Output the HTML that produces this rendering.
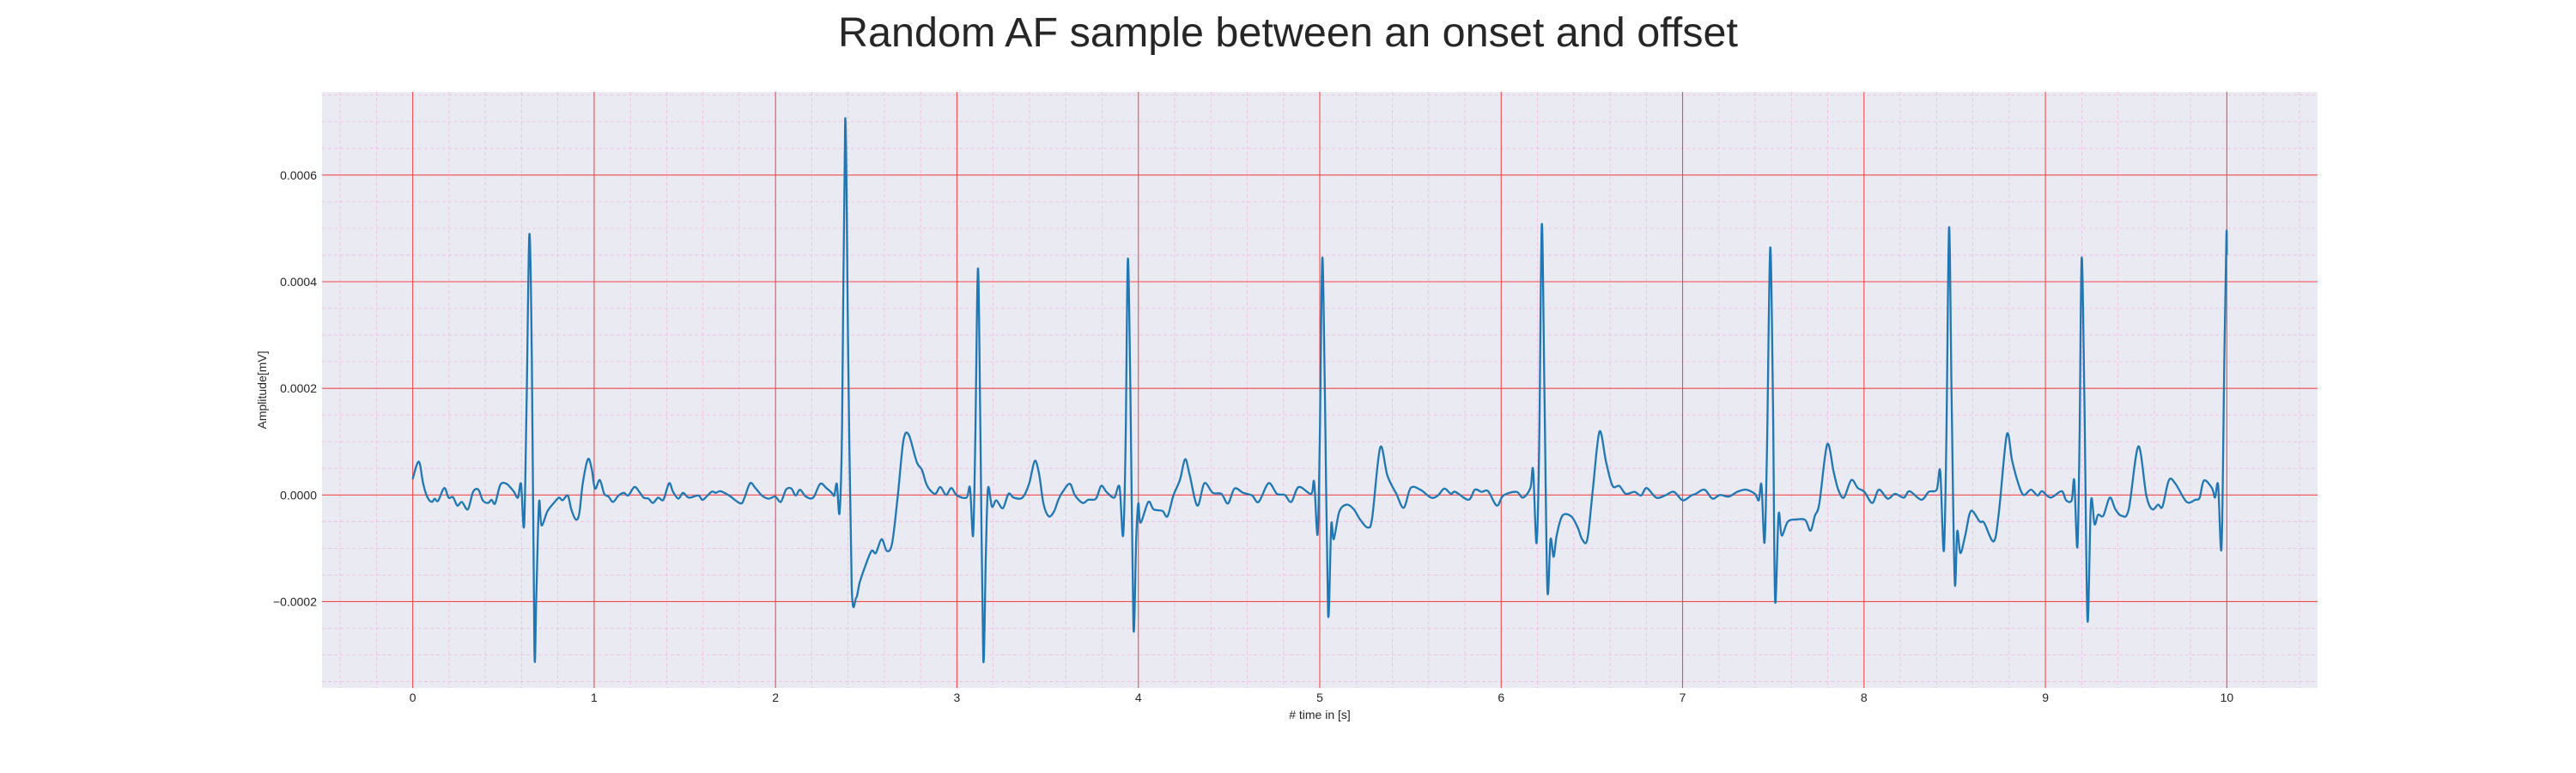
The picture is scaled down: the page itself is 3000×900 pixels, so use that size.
<!DOCTYPE html>
<html><head><meta charset="utf-8"><style>
html,body{margin:0;padding:0;background:#fff;}
svg{display:block;font-family:"Liberation Sans",Arial,sans-serif;}
</style></head><body>
<svg id="chart" width="3000" height="900" viewBox="0 0 3000 900" xmlns="http://www.w3.org/2000/svg">
<text x="1500" y="54" text-anchor="middle" font-size="48.5" fill="#262626">Random AF sample between an onset and offset</text>
<rect x="375" y="107" width="2324" height="694" fill="#eaeaf2"/>
<g id="grid"></g>
<g id="ticks"></g>
<text x="1537" y="837" text-anchor="middle" font-size="14" fill="#262626"># time in [s]</text>
<text transform="translate(310,454) rotate(-90)" text-anchor="middle" font-size="14" fill="#262626">Amplitude[mV]</text>
<path id="trace" fill="none" stroke="#1f77b4" stroke-width="2.3" stroke-linejoin="round"/>
</svg>
<script>
const xTicks=[0,1,2,3,4,5,6,7,8,9,10];
const yTicks=[-0.0002,0,0.0002,0.0004,0.0006];
const yTickLabels=["\u22120.0002","0.0000","0.0002","0.0004","0.0006"];
const times=[0,0.024,0.039,0.058,0.082,0.106,0.121,0.14,0.174,0.198,0.222,0.246,0.271,0.304,0.333,0.362,0.386,0.415,0.435,0.454,0.483,0.517,0.556,0.58,0.597,0.614,0.628,0.643,0.657,0.671,0.681,0.696,0.71,0.742,0.778,0.807,0.826,0.855,0.874,0.899,0.918,0.937,0.966,0.986,1.005,1.031,1.056,1.08,1.104,1.135,1.164,1.188,1.222,1.249,1.273,1.3,1.324,1.353,1.382,1.413,1.435,1.464,1.49,1.522,1.575,1.599,1.647,1.671,1.696,1.744,1.807,1.829,1.86,1.889,1.925,1.961,1.998,2.029,2.058,2.087,2.111,2.135,2.167,2.208,2.246,2.28,2.31,2.324,2.338,2.353,2.367,2.384,2.401,2.42,2.444,2.464,2.493,2.529,2.553,2.585,2.614,2.643,2.674,2.705,2.734,2.778,2.807,2.836,2.879,2.908,2.94,2.969,3.0,3.053,3.072,3.089,3.101,3.116,3.13,3.145,3.159,3.171,3.193,3.217,3.253,3.284,3.313,3.361,3.398,3.429,3.453,3.477,3.506,3.535,3.559,3.583,3.622,3.651,3.694,3.723,3.766,3.795,3.824,3.867,3.896,3.916,3.93,3.942,3.957,3.973,3.988,4.0,4.012,4.055,4.084,4.133,4.161,4.193,4.229,4.258,4.282,4.325,4.364,4.41,4.458,4.494,4.53,4.578,4.627,4.663,4.718,4.764,4.807,4.843,4.884,4.952,4.969,4.988,5.0,5.014,5.029,5.046,5.063,5.077,5.108,5.149,5.188,5.222,5.265,5.289,5.333,5.373,5.422,5.463,5.501,5.554,5.614,5.651,5.687,5.723,5.747,5.82,5.855,5.892,5.928,5.976,6.012,6.084,6.12,6.161,6.176,6.195,6.21,6.224,6.239,6.255,6.272,6.289,6.306,6.337,6.386,6.422,6.446,6.475,6.506,6.542,6.578,6.614,6.651,6.687,6.735,6.771,6.802,6.855,6.903,6.952,7.0,7.048,7.072,7.121,7.164,7.205,7.254,7.302,7.35,7.399,7.42,7.435,7.452,7.466,7.483,7.498,7.51,7.529,7.546,7.58,7.628,7.676,7.705,7.729,7.754,7.797,7.833,7.858,7.889,7.93,7.966,8.002,8.046,8.082,8.13,8.171,8.22,8.251,8.316,8.357,8.401,8.42,8.44,8.454,8.469,8.483,8.5,8.514,8.531,8.558,8.589,8.638,8.662,8.715,8.744,8.787,8.816,8.848,8.879,8.92,8.957,8.981,9.029,9.089,9.114,9.145,9.159,9.176,9.188,9.2,9.215,9.232,9.251,9.271,9.29,9.319,9.355,9.386,9.42,9.459,9.512,9.556,9.589,9.621,9.645,9.681,9.717,9.778,9.826,9.85,9.874,9.918,9.935,9.952,9.971,9.986,9.998,10.0];
const amps1e5=[2.96,5.8,5.9,2.1,-0.5,-1.3,-0.7,-1.1,1.3,-0.5,-0.4,-2.0,-1.3,-2.7,0.6,1.0,-1.0,-1.5,-0.9,-1.6,1.9,2.1,0.7,-0.5,2.1,-5.7,17.6,48.9,25,-29.2,-19.4,-1.5,-5.7,-3.1,-1.5,-0.5,-1.0,-0.1,-2.7,-4.6,-3.5,2.1,6.7,5.0,1.2,2.8,0.2,-0.3,-1.3,-0.1,0.4,-0.1,1.5,0.6,-0.5,-0.7,-1.5,-0.5,-0.9,2.2,0.6,-0.7,0.4,-0.5,-0.1,-0.9,0.6,0.4,0.7,-0.1,-1.6,-0.5,2.2,1.3,-0.1,-0.7,-0.3,-1.3,1.0,1.2,-0.1,1.0,-0.3,-0.5,2.1,1.3,0.4,-0.1,2.1,-3.3,13.2,70.6,25,-17.2,-19.3,-16.4,-13.5,-10.5,-10.9,-8.3,-10.5,-9.0,-0.1,10.2,11.3,6.2,4.7,1.7,0.2,1.5,0,1.3,-0.1,-0.5,1.3,-7.6,10.2,42.5,10.2,-30.9,-12,1.2,-2.2,-1.0,-2.5,0.2,-0.5,-0.5,2.1,6.4,3.9,-1.6,-4.0,-3.1,-0.9,0.6,2.1,-0.1,-1.5,-0.9,-0.7,1.7,0.6,-0.5,1.5,-7.6,10.2,44.3,17.6,-25,-8.3,-1.6,-5.2,-1.3,-2.7,-3.0,-4.0,-0.1,2.8,6.7,3.9,-2.0,2.2,0.4,0.2,-1.6,1.2,0.4,-0.1,-1.3,2.2,0.2,0,-1.3,1.5,0.2,2.4,-7.4,10.2,44.5,17.6,-22.4,-5.7,-8.3,-3.1,-1.8,-2.7,-4.6,-6.1,-4.2,8.9,3.6,0.2,-2.4,1.3,1.0,-0.5,-0.1,1.2,0.2,0.6,-0.9,1.0,0.6,0.7,-2.0,-0.1,0.6,-0.5,1.3,4.7,-9.0,10.2,50.8,17.6,-17.8,-8.3,-11.6,-7.6,-3.9,-4.0,-6.1,-8.3,-8.3,1.3,11.9,6.2,1.7,1.7,0.2,0.6,-0.1,1.3,-0.5,-0.1,0.6,-1.0,-0.1,0.2,1.0,-0.7,0,-0.3,0.6,1.0,0.2,-1.0,1.9,-8.9,10.2,46.4,17.6,-19.8,-3.7,-7.6,-5.0,-4.6,-4.7,-6.7,-3.9,-1.6,9.5,4.3,1.0,-0.5,2.8,1.3,0.6,-1.5,1.0,-0.7,0.2,-0.5,0.7,-0.9,0.6,1.0,4.4,-10.5,10.2,50.2,17.6,-16.3,-6.8,-10.9,-7.6,-3.0,-5.0,-5.2,-8.7,-3.1,11.3,6.5,2.4,0,1.0,-0.1,0.7,-0.5,0.7,-1.0,-1.0,2.7,-9.8,10.2,44.5,17.6,-23.5,-1.3,-5.5,-3.7,-3.9,-0.5,-2.7,-3.9,-2.7,9.1,-0.1,-2.7,-1.8,-2.2,2.8,2.1,-1.3,-0.9,-0.5,2.7,1.3,-0.5,1.9,-9.8,25,48.7,45];

const X0=375,X1=2699,Y0=107,Y1=801,XMIN=-0.5,XMAX=10.5,YMIN=-0.000362,YMAX=0.000756;
function xs(t){return X0+(t-XMIN)/(XMAX-XMIN)*(X1-X0);}
function ys(v){return Y1-(v-YMIN)/(YMAX-YMIN)*(Y1-Y0);}
const NS="http://www.w3.org/2000/svg";
const grid=document.getElementById('grid'), ticks=document.getElementById('ticks');
function line(g,x1,y1,x2,y2,stroke,w,dash){const l=document.createElementNS(NS,'line');l.setAttribute('x1',x1);l.setAttribute('y1',y1);l.setAttribute('x2',x2);l.setAttribute('y2',y2);l.setAttribute('stroke',stroke);l.setAttribute('stroke-width',w);if(dash)l.setAttribute('stroke-dasharray',dash);g.appendChild(l);return l;}
for(let i=-2;i<=52;i++){const t=i*0.2;if(t<XMIN||t>XMAX)continue;if(Math.abs(t-Math.round(t))<1e-6)continue;
 const l=line(grid,xs(t),Y0,xs(t),Y1,'#f3b8e2',0.8,'4,3');
 
 }
for(let i=-8;i<=16;i++){const v=i*0.00005;if(v<YMIN||v>YMAX)continue;if(i%4===0)continue;
 const l=line(grid,X0,ys(v),X1,ys(v),'#f3b8e2',0.8,'4,3');
 
 }
xTicks.forEach(t=>{const l=line(grid,xs(t),Y0,xs(t),Y1,'#f24a4a',1.1);
 
 
 const tx=document.createElementNS(NS,'text');tx.setAttribute('x',xs(t));tx.setAttribute('y',817);tx.setAttribute('text-anchor','middle');tx.setAttribute('font-size','14');tx.setAttribute('fill','#262626');tx.textContent=String(t);
 
 
 ticks.appendChild(tx);});
yTicks.forEach((v,i)=>{const l=line(grid,X0,ys(v),X1,ys(v),'#f24a4a',1.1);
 
 
 const tx=document.createElementNS(NS,'text');tx.setAttribute('x',369);tx.setAttribute('y',ys(v)+5);tx.setAttribute('text-anchor','end');tx.setAttribute('font-size','14');tx.setAttribute('fill','#262626');tx.textContent=yTickLabels[i];
 
 
 ticks.appendChild(tx);});
const P=times.map((t,i)=>[xs(t),ys(amps1e5[i]*1e-5)]);
let d='M'+P[0][0].toFixed(1)+','+P[0][1].toFixed(1);
for(let i=0;i<P.length-1;i++){const p0=P[Math.max(0,i-1)],p1=P[i],p2=P[i+1],p3=P[Math.min(P.length-1,i+2)];
 const k=0.16;
 const c1=[p1[0]+(p2[0]-p0[0])*k,p1[1]+(p2[1]-p0[1])*k],c2=[p2[0]-(p3[0]-p1[0])*k,p2[1]-(p3[1]-p1[1])*k];
 d+='C'+c1[0].toFixed(1)+','+c1[1].toFixed(1)+' '+c2[0].toFixed(1)+','+c2[1].toFixed(1)+' '+p2[0].toFixed(1)+','+p2[1].toFixed(1);}
document.getElementById('trace').setAttribute('d',d);
</script>
</body></html>
